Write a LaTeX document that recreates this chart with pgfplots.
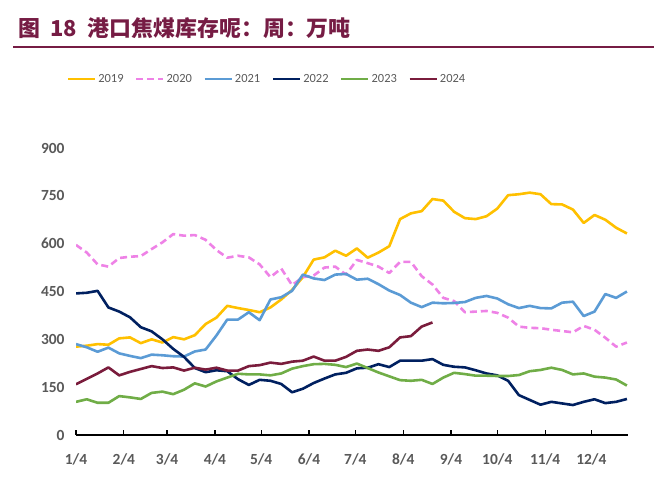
\documentclass[border=0pt]{standalone}
\usepackage{fontspec}
\setmainfont{Carlito}
\newfontfamily\cjk{Noto Sans CJK SC}
\usepackage{pgfplots}
\pgfplotsset{compat=1.18}
\definecolor{titlecol}{RGB}{118,28,68}
\definecolor{tickgray}{RGB}{89,89,89}
\definecolor{c2019}{RGB}{255,192,0}
\definecolor{c2020}{RGB}{238,130,230}
\definecolor{c2021}{RGB}{91,155,213}
\definecolor{c2022}{RGB}{0,32,96}
\definecolor{c2023}{RGB}{112,173,71}
\definecolor{c2024}{RGB}{122,28,60}
\begin{document}
\begin{tikzpicture}
\path[use as bounding box] (0,0) rectangle (654bp,481bp);
\node[anchor=west, text=titlecol, font=\cjk\bfseries\fontsize{22}{22}\selectfont, inner sep=0pt] at (18bp,453bp) {图\hspace{10bp}18\hspace{11bp}港口焦煤库存呢：周：万吨};
\draw[titlecol, line width=2.5bp] (13bp,434bp) -- (654bp,434bp);
\begin{axis}[
  at={(76bp,46bp)}, anchor=south west, scale only axis,
  width=552bp, height=287bp,
  xmin=0, xmax=51.1, ymin=0, ymax=900,
  ytick={0,150,300,450,600,750,900},
  xtick={0,4.43,8.43,12.86,17.14,21.57,25.86,30.29,34.71,39,43.43,47.71},
  xticklabels={1/4,2/4,3/4,4/4,5/4,6/4,7/4,8/4,9/4,10/4,11/4,12/4},
  axis x line*=bottom, axis y line*=left,
  x axis line style={black, line width=1.6bp, -},
  y axis line style={draw=none},
  ytick style={draw=none},
  xtick style={black, line width=1.2bp},
  tick align=inside, major tick length=5bp,
  /pgf/number format/assume math mode=true,
  tick label style={font=\bfseries\fontsize{15.5}{16}\selectfont, text=tickgray},
  xticklabel style={yshift=-15bp},
  yticklabel style={xshift=-8bp},
  legend columns=6,
  legend style={at={(0.346,1.240)}, anchor=center, draw=none, fill=none,
    font=\fontsize{12.5}{13}\selectfont, text=tickgray,
    /tikz/every even column/.append style={column sep=9.5bp}},
  legend image code/.code={\draw[#1] (0bp,0bp) -- (27bp,0bp);},
  every axis plot/.append style={line width=2.6bp, line join=round},
]
\addplot[c2019] coordinates {(0,277)(1,280)(2,285)(3,283)(4,303)(5,306)(6,288)(7,300)(8,290)(9,307)(10,300)(11,313)(12,348)(13,368)(14,405)(15,398)(16,392)(17,385)(18,400)(19,425)(20,455)(21,495)(22,550)(23,557)(24,578)(25,562)(26,585)(27,556)(28,572)(29,592)(30,677)(31,695)(32,702)(33,740)(34,735)(35,700)(36,680)(37,677)(38,686)(39,710)(40,752)(41,755)(42,760)(43,755)(44,724)(45,723)(46,707)(47,665)(48,690)(49,675)(50,650)(51,632)};
\addlegendentry{2019}
\addplot[c2020, dash pattern=on 7bp off 4bp] coordinates {(0,596)(1,572)(2,535)(3,528)(4,555)(5,559)(6,561)(7,583)(8,604)(9,630)(10,625)(11,627)(12,612)(13,580)(14,556)(15,562)(16,557)(17,535)(18,495)(19,522)(20,470)(21,495)(22,500)(23,525)(24,528)(25,503)(26,549)(27,539)(28,528)(29,508)(30,543)(31,543)(32,498)(33,472)(34,430)(35,420)(36,385)(37,387)(38,389)(39,383)(40,368)(41,340)(42,336)(43,335)(44,330)(45,326)(46,322)(47,342)(48,330)(49,305)(50,277)(51,290)};
\addlegendentry{2020}
\addplot[c2021] coordinates {(0,285)(1,275)(2,261)(3,274)(4,256)(5,248)(6,241)(7,252)(8,250)(9,247)(10,246)(11,262)(12,268)(13,312)(14,362)(15,362)(16,385)(17,360)(18,425)(19,432)(20,452)(21,503)(22,491)(23,486)(24,503)(25,505)(26,487)(27,490)(28,473)(29,453)(30,439)(31,415)(32,401)(33,415)(34,413)(35,414)(36,417)(37,430)(38,436)(39,428)(40,410)(41,398)(42,405)(43,398)(44,397)(45,415)(46,418)(47,373)(48,387)(49,442)(50,430)(51,450)};
\addlegendentry{2021}
\addplot[c2022] coordinates {(0,444)(1,446)(2,452)(3,400)(4,387)(5,369)(6,338)(7,325)(8,300)(9,270)(10,245)(11,210)(12,197)(13,203)(14,200)(15,175)(16,157)(17,173)(18,170)(19,160)(20,134)(21,145)(22,163)(23,177)(24,190)(25,195)(26,209)(27,211)(28,222)(29,213)(30,233)(31,233)(32,233)(33,238)(34,220)(35,214)(36,212)(37,203)(38,193)(39,187)(40,170)(41,125)(42,110)(43,95)(44,104)(45,99)(46,94)(47,104)(48,112)(49,100)(50,104)(51,113)};
\addlegendentry{2022}
\addplot[c2023] coordinates {(0,104)(1,112)(2,101)(3,101)(4,122)(5,118)(6,113)(7,132)(8,136)(9,128)(10,142)(11,162)(12,152)(13,168)(14,180)(15,192)(16,190)(17,190)(18,187)(19,193)(20,208)(21,216)(22,222)(23,223)(24,220)(25,213)(26,224)(27,210)(28,196)(29,184)(30,172)(31,170)(32,173)(33,160)(34,180)(35,195)(36,191)(37,186)(38,186)(39,185)(40,185)(41,188)(42,200)(43,204)(44,211)(45,204)(46,190)(47,193)(48,183)(49,180)(50,174)(51,155)};
\addlegendentry{2023}
\addplot[c2024] coordinates {(0,159)(1,176)(2,193)(3,212)(4,187)(5,198)(6,207)(7,216)(8,210)(9,212)(10,202)(11,211)(12,205)(13,211)(14,202)(15,202)(16,216)(17,219)(18,227)(19,223)(20,230)(21,233)(22,246)(23,233)(24,233)(25,245)(26,264)(27,268)(28,264)(29,275)(30,306)(31,310)(32,340)(33,353)};
\addlegendentry{2024}
\end{axis}
\end{tikzpicture}
\end{document}
